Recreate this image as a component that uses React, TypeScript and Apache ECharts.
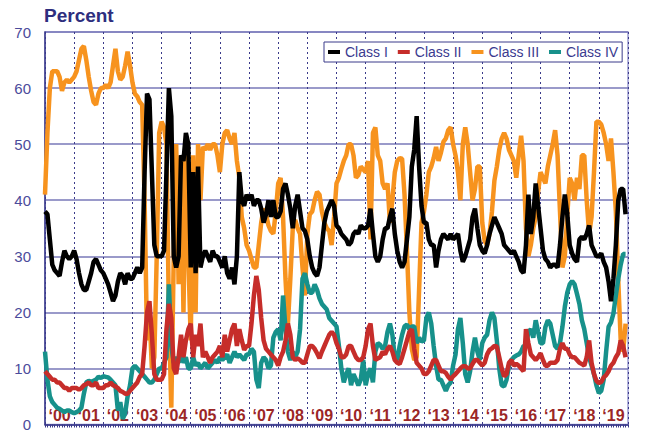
import React, { useEffect, useRef } from "react";
import * as echarts from "echarts";

const FONT = "'Liberation Sans', Arial, Helvetica, sans-serif";

const yearLabels = [
  "‘00", "‘01", "‘02", "‘03", "‘04", "‘05", "‘06", "‘07", "‘08", "‘09",
  "‘10", "‘11", "‘12", "‘13", "‘14", "‘15", "‘16", "‘17", "‘18", "‘19",
];
const startYear = 2000;
const yMin = 0;
const yMax = 70;
const yStep = 10;

// Monthly readings, one row per year (2000 .. 2019)
const classI = [
  38, 37.5, 33, 28.5, 27.5, 27, 26.5, 29, 31, 30, 29.5, 30,
  31, 29.5, 27, 25, 24, 24, 25.5, 27, 29, 29.5, 28.5, 27.5,
  27, 26, 25, 23.5, 22, 23, 25.5, 27, 26.5, 25, 27, 26,
  26, 27, 28, 27, 28, 45, 59, 58, 45, 32, 30, 30,
  30, 31, 45, 60, 55, 30, 28, 30, 48, 47, 52, 50,
  28, 45, 27, 46, 28, 30, 31, 30, 29, 31, 30, 30,
  29, 28, 30, 27, 26, 28, 25, 30, 45, 40, 39, 41,
  40, 41, 39, 40, 40, 38.5, 36, 37.5, 40, 37, 40, 37,
  37, 38, 42, 43, 41, 38.5, 35, 39, 41, 38, 35, 34.5,
  33, 30, 28, 27, 26.5, 28, 32, 36, 38, 39, 40, 39,
  35.5, 35, 34, 33.5, 33, 32, 32.5, 34, 34.5, 34, 35.5, 35,
  35, 35.5, 38.5, 34, 30, 29, 30, 33, 35, 35, 37, 38.5,
  34, 31, 29, 28, 29, 33, 37, 46, 49, 55, 46, 39,
  36, 36, 33, 32, 32, 28, 31, 33, 34, 33.5, 33, 34,
  33, 33.5, 34, 31, 29, 30, 31.5, 33, 37, 38.5, 35, 32,
  31, 30.5, 32, 34, 35.5, 37, 36, 35, 34, 32, 31.5, 31,
  30.5, 31, 30, 29, 27.5, 27, 32, 41, 34, 37, 43, 39,
  35, 31, 29.5, 29, 28, 28.5, 28.5, 28, 32, 37, 41, 37.5,
  32, 30.5, 29.5, 29, 33, 33.5, 33, 34, 35.5, 32, 31, 30,
  30, 30.5, 29, 28, 25.5, 22, 26, 32, 40, 42, 42, 37.5,
];

const classII = [
  9.5, 9, 8.5, 8, 8, 7.5, 7.5, 7, 6.5, 6.5, 6, 6.5,
  6.5, 6.5, 6.2, 6.5, 7, 7.2, 7.5, 7, 7, 7.5, 6.5, 6.5,
  6.5, 7, 7, 7.5, 7, 6.8, 6.5, 6, 5.8, 5.5, 5.5, 6,
  6.5, 7, 7.5, 8.5, 9, 14, 20, 22, 16, 9, 8, 8,
  8, 9, 17, 21.5, 19, 10, 9, 12, 16, 12, 15, 17,
  18, 12, 16, 14, 18, 12, 13, 12, 11, 12, 12.5, 13,
  14, 12, 16, 13, 15, 17, 18, 14, 17, 15, 13.3, 14,
  14, 18, 23, 26.5, 24, 19, 15, 13.5, 13, 12.5, 12, 11.5,
  10.5, 12, 13, 15, 18, 16, 12, 11.5, 11.8, 11.5, 11, 11,
  12.5, 14, 14, 13.5, 12.7, 11.8, 13, 14, 15, 16, 16.5, 16,
  14.5, 13.5, 12, 12, 12.5, 14, 14, 13, 12, 11.5, 11.5, 12,
  14, 17, 18, 14, 11.5, 11.8, 12, 13, 12.5, 13.5, 14, 13,
  11.5, 11, 10.8, 12, 13.5, 15, 16.5, 17, 13.5, 11, 10.5, 10,
  9, 9, 9.5, 10.5, 11.5, 11.5, 10.5, 9.5, 9.5, 9.2, 8.5, 8,
  8.6, 9, 9.5, 10, 10.4, 10.4, 10, 10, 10.8, 11.5, 11.5, 11,
  10.5, 11, 12.5, 13.3, 13.6, 14, 13.9, 12, 10, 8.6, 9, 11,
  11.5, 10.5, 10.8, 10.5, 10, 9.5, 17, 14.5, 12.5, 12, 11.5, 12,
  12.7, 11.5, 10.5, 10.5, 11, 11, 11, 11.5, 13.5, 14.5, 13.5, 13.5,
  12.5, 12, 12, 11.5, 11, 10.8, 10.5, 12, 15, 11, 9, 7.8,
  7.4, 7.6, 8.4, 8.8, 9.5, 10.5, 11, 12, 12.7, 15, 14, 12,
];

const classIII = [
  41, 52, 60, 63, 63, 63, 62, 59.5, 61, 61.5, 61, 61.5,
  62, 63, 65, 67, 67.5, 65, 62, 59.5, 57.5, 57, 59, 60,
  60, 60.6, 60, 61, 64, 67, 63, 61.5, 62, 64, 66.5, 64,
  61, 59, 58.5, 57.5, 57, 40, 15, 20, 10, 12, 30, 52,
  54, 53, 50, 20, 3, 30, 50, 25, 48, 20, 50, 30,
  15, 48, 20, 50, 40, 49.5, 49, 50, 49, 50, 50, 48,
  45, 50, 52, 52.5, 51, 50, 52, 47, 44, 37, 35, 32,
  31, 29.5, 28, 28, 32, 36, 38.5, 37.5, 35.5, 34.5, 34, 38,
  43, 44, 37, 26, 18, 26, 35, 36.5, 35, 34, 28, 23,
  34, 37.5, 38, 40, 41.5, 41, 38, 36, 35, 34.5, 32, 37,
  43, 44, 45.6, 47, 48, 50, 50, 48, 44, 44.5, 46, 45.5,
  45, 47, 33, 52, 53, 48, 47, 43, 42, 43, 36, 40,
  45, 47, 47.5, 47.4, 41, 31, 20, 13.5, 11.5, 12, 24, 36,
  38, 41, 45, 46, 47.5, 49.5, 47, 48.5, 50.4, 51, 52.5, 53,
  50, 48, 45, 40, 50, 53, 50, 45, 40, 42, 46, 46,
  36, 32.7, 32, 34, 38, 43.5, 46, 49, 51, 52, 51, 49,
  48, 47, 44, 48, 51.5, 47, 35, 30, 32, 35, 37, 41.5,
  45, 44, 43, 46, 48, 50, 52.5, 48, 38, 28, 30, 37.4,
  44, 43, 40, 44, 42, 48, 48, 40, 34, 37, 45, 54,
  54, 53.5, 52, 50, 47, 51, 45, 38, 25.6, 15, 13, 18,
];

const classIV = [
  13, 8, 5, 4, 3.5, 3, 2.8, 2.5, 2.2, 2.5, 2.5, 2.2,
  2, 2.2, 2.5, 3, 5.5, 7.5, 7.8, 7.6, 7.8, 8, 8.5, 8.3,
  8.6, 8.5, 8.4, 8, 7.5, 7, 2.5, 4, 1, 2, 5, 7,
  10, 10.5, 10, 9.5, 9, 8.5, 8, 7.5, 7.5, 8, 9, 10,
  10, 11, 12, 25, 14, 11, 12, 11, 13, 11, 12, 10,
  10, 12, 10.5, 11, 10, 10.5, 11, 10, 10.5, 11, 11.5, 11,
  12, 11.5, 12, 12.5, 11, 12, 13, 12, 12.5, 12, 11.5, 12.5,
  12.5, 13.5, 13, 8, 6.5, 11, 12, 11.5, 10, 10.5, 15.5, 16.5,
  17, 15, 23, 17, 13, 11.5, 13, 12, 13, 17, 26, 27,
  25, 23.5, 23.5, 25, 24, 22.5, 21.5, 21, 20.5, 19, 18.5, 18,
  17.5, 14, 10, 7.5, 9, 10, 7, 9, 8, 7, 8, 11.5,
  7, 9, 10, 7.5, 13, 14.5, 14.2, 13.5, 14, 16.5, 18, 16,
  12, 11.5, 14, 16, 17.5, 17.8, 17, 17.5, 17.5, 14.5, 15.5, 14.8,
  15, 19, 20, 18, 14, 10.5, 8, 8, 7, 6, 7, 7.5,
  10.5, 12.5, 17, 19, 14.5, 9, 7.5, 9.5, 13, 15.5, 13, 11.5,
  14.5, 15.5, 16, 18.6, 20, 19, 15, 10, 7, 6.8, 8, 10.5,
  11.5, 12, 12.3, 12.5, 13, 14, 14, 16.5, 17, 15.5, 18.6, 16.5,
  14.5, 14.5, 17.4, 18.6, 18, 16, 14, 13.5, 14.5, 17.4, 21, 23.5,
  25, 25.6, 25, 23.3, 21.5, 18.6, 17, 14.5, 12, 10.5, 9, 7,
  5.6, 6, 8, 13, 17.4, 18.2, 19.8, 23, 26, 28.5, 30.4, 30.4,
];

const seriesNames = ["Class I", "Class II", "Class III", "Class IV"];
const seriesColors = ["#000000", "#c62d2a", "#f7931e", "#17918b"];

export default function App() {
  const ref = useRef<HTMLDivElement>(null);

  useEffect(() => {
    document.body.style.margin = "0";
    const chart = echarts.init(ref.current!, null, { renderer: "svg" });
    const toPoints = (vals: number[]) =>
      vals.map((v, i) => [startYear + i / 12, v]);
    const all = [classI, classII, classIII, classIV];
    const zOrder = [5, 4, 2, 3];

    chart.setOption({
      animation: false,
      backgroundColor: "#ffffff",
      title: {
        text: "Percent",
        left: 44,
        top: 6,
        padding: 0,
        textStyle: {
          fontSize: 19,
          fontWeight: "bold",
          color: "#2e2e7e",
          fontFamily: FONT,
        },
      },
      legend: {
        data: seriesNames,
        left: 324,
        top: 42,
        icon: "rect",
        itemWidth: 12,
        itemHeight: 4,
        itemGap: 10,
        padding: [3, 4, 3, 4],
        borderColor: "#3a3a8a",
        borderWidth: 1,
        backgroundColor: "#ffffff",
        textStyle: { fontSize: 14, color: "#3a3a8f", fontFamily: FONT },
      },
      grid: {
        left: 45,
        right: 24,
        top: 32,
        bottom: 3,
        show: true,
        borderColor: "#9c9cd2",
        borderWidth: 1.5,
        backgroundColor: "#ffffff",
      },
      xAxis: [
        {
          type: "category",
          position: "bottom",
          data: yearLabels,
          boundaryGap: true,
          axisLine: { show: true, lineStyle: { color: "#3a3a8a", width: 1.5 } },
          axisTick: { show: false },
          axisLabel: {
            inside: true,
            interval: 0,
            margin: 1,
            fontSize: 16,
            fontWeight: "bold",
            color: "#9b2626",
            fontFamily: FONT,
          },
          splitLine: {
            show: true,
            interval: 0,
            lineStyle: { color: "#3a3a8a", width: 1, type: [2, 3] },
          },
        },
        {
          type: "value",
          position: "bottom",
          min: startYear,
          max: startYear + yearLabels.length,
          interval: 1,
          axisLine: { show: false },
          axisLabel: { show: false },
          splitLine: { show: false },
          axisTick: { show: true, length: 3, lineStyle: { color: "#3a3a8a" } },
          minorTick: {
            show: true,
            splitNumber: 12,
            length: 3,
            lineStyle: { color: "#3a3a8a" },
          },
        },
      ],
      yAxis: {
        type: "value",
        min: yMin,
        max: yMax,
        interval: yStep,
        axisLine: { show: true, lineStyle: { color: "#3a3a8a", width: 1.5 } },
        axisTick: { show: false },
        axisLabel: {
          margin: 14,
          fontSize: 15,
          color: "#4b4b9b",
          fontFamily: FONT,
        },
        splitLine: { lineStyle: { color: "#7878b8", width: 1.5 } },
      },
      series: all.map((vals, k) => ({
        name: seriesNames[k],
        type: "line",
        xAxisIndex: 1,
        data: toPoints(vals),
        showSymbol: false,
        symbol: "none",
        z: zOrder[k],
        color: seriesColors[k],
        lineStyle: { color: seriesColors[k], width: 4.5 },
        itemStyle: { color: seriesColors[k] },
      })),
    });

    return () => chart.dispose();
  }, []);

  return <div ref={ref} style={{ width: 652, height: 432 }} />;
}
